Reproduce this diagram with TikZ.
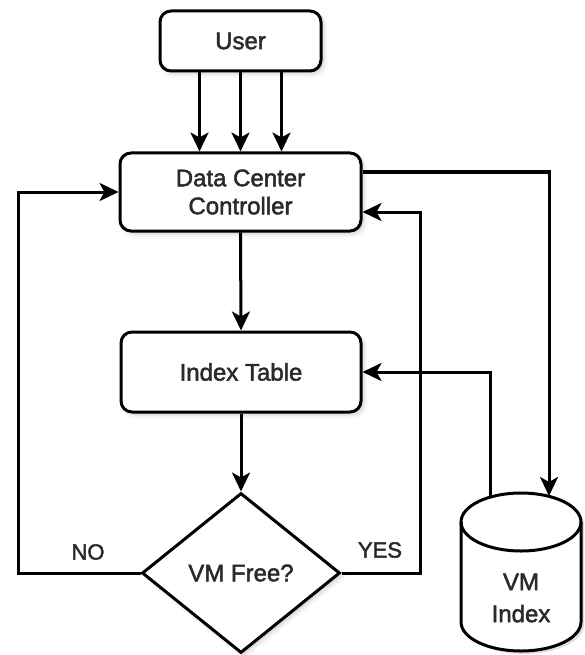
\documentclass[tikz,border=0pt]{standalone}
\usepackage{fontspec}
\setmainfont{Liberation Sans}
\newfontfamily\dgfont{Liberation Sans}[FakeBold=2]
\usetikzlibrary{shapes.geometric,arrows.meta,calc,shadows.blur}
\definecolor{txt}{HTML}{2A2A2A}
\tikzset{
  shad/.style={blur shadow={shadow xshift=3pt, shadow yshift=-3pt, shadow opacity=18, shadow blur radius=4pt}},
  box/.style={draw=black, line width=3pt, rounded corners=11pt, fill=white, align=center, font=\dgfont\fontsize{24}{28}\selectfont, text=txt, shad},
  dec/.style={draw=black, line width=3pt, diamond, fill=white, inner sep=0pt, font=\dgfont\fontsize{24}{28}\selectfont, text=txt, shad},
  arr/.style={line width=3pt, -{Stealth[length=19pt,width=18pt,inset=5pt]}},
  lbl/.style={font=\dgfont\fontsize{22}{26}\selectfont, text=txt},
}
\begin{document}
\begin{tikzpicture}[x=1pt,y=-1pt]
\useasboundingbox (0,0) rectangle (585,655);
\node[box, minimum width=161pt, minimum height=60pt] (user) at (240.5,41) {User};
\node[box, minimum width=241pt, minimum height=78pt] (dcc) at (240.5,192) {Data Center\\Controller};
\node[box, minimum width=240pt, minimum height=80pt] (idx) at (241,372) {Index Table};
\node[dec, minimum width=198pt, minimum height=160pt] (dia) at (241,573) {VM Free?};
% cylinder
\fill[black, opacity=0.12] (464,525) -- (464,625) arc[start angle=180, end angle=0, x radius=60, y radius=29] -- (584,525) arc[start angle=0, end angle=-180, x radius=60, y radius=29] -- cycle;
\draw[line width=3pt, fill=white] (461,522) -- (461,622) arc[start angle=180, end angle=0, x radius=60, y radius=29] -- (581,522) arc[start angle=0, end angle=-180, x radius=60, y radius=29] -- cycle;
\draw[line width=3pt] (461,522) arc[start angle=180, end angle=0, x radius=60, y radius=29];
\node[minimum width=120pt, minimum height=100pt, align=center, font=\dgfont\fontsize{24}{32}\selectfont, text=txt] (cyl) at (521,598) {VM\\Index};
\coordinate (cylA) at (549,496);
\coordinate (cylB) at (490,497);
% user arrows
\foreach \dx in {-41,0,41}
  \draw[arr] ([xshift=\dx pt]user.south) -- ([xshift=\dx pt]user.south |- dcc.north);
\draw[arr] (dcc.south) -- (idx.north);
\draw[arr] (idx.south) -- (dia.north);
% NO branch
\coordinate (noc) at (18,192);
\draw[arr] (dia.west) -| (noc) -- (dcc.west);
% YES branch
\coordinate (yesc) at (420,212);
\draw[arr] (dia.east) -| (yesc) -- (yesc -| dcc.east);
% controller to VM index
\coordinate (rc) at (549,172);
\draw[arr] (rc -| dcc.east) -- (rc) -- (cylA);
% VM index to index table
\draw[arr] (cylB) |- (idx.east);
\node[lbl] (no) at (88,552) {NO};
\node[lbl] (yes) at (380,550) {YES};
\end{tikzpicture}
\end{document}
